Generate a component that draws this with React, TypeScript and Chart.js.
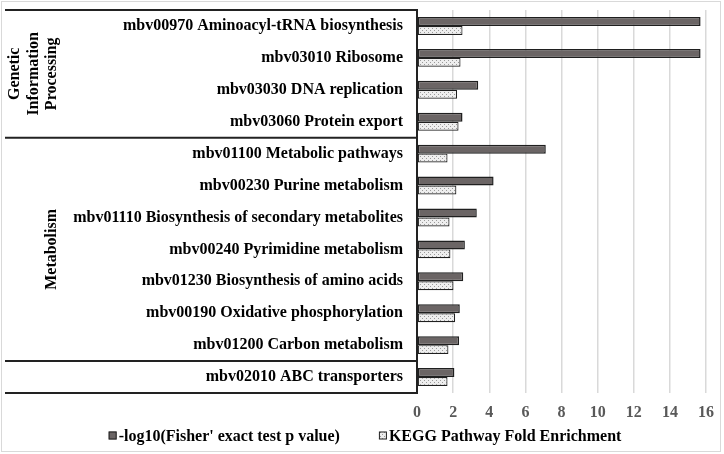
import React, { useEffect, useRef } from "react";
import { Chart, registerables } from "chart.js";

Chart.register(...registerables);

const categories: string[] = [
  "mbv00970 Aminoacyl-tRNA biosynthesis",
  "mbv03010 Ribosome",
  "mbv03030 DNA replication",
  "mbv03060 Protein export",
  "mbv01100 Metabolic pathways",
  "mbv00230 Purine metabolism",
  "mbv01110 Biosynthesis of secondary metabolites",
  "mbv00240 Pyrimidine metabolism",
  "mbv01230 Biosynthesis of amino acids",
  "mbv00190 Oxidative phosphorylation",
  "mbv01200 Carbon metabolism",
  "mbv02010 ABC transporters",
];

const negLogP: number[] = [15.7, 15.7, 3.39, 2.52, 7.13, 4.24, 3.31, 2.65, 2.56, 2.37, 2.33, 2.07];
const foldEnrichment: number[] = [2.52, 2.41, 2.22, 2.3, 1.69, 2.18, 1.8, 1.85, 2.02, 2.11, 1.74, 1.69];

const seriesNames: string[] = ["-log10(Fisher' exact test p value)", "KEGG Pathway Fold Enrichment"];

// groups: label lines, first index, last index
const groupLabels: string[][] = [["Genetic", "Information", "Processing"], ["Metabolism"], []];
const groupStarts: number[] = [0, 4, 11];
const groupEnds: number[] = [3, 10, 11];

const xMin = 0;
const xMax = 16;
const xStep = 2;

const FONT = "'Liberation Serif', 'Times New Roman', serif";

function makeDotPattern(): CanvasPattern | string {
  const c = document.createElement("canvas");
  c.width = 4;
  c.height = 4;
  const g = c.getContext("2d");
  if (!g) return "#dddddd";
  g.fillStyle = "#eeeeee";
  g.fillRect(0, 0, 4, 4);
  g.fillStyle = "#9a9a9a";
  g.fillRect(0, 0, 1, 1);
  g.fillRect(2, 2, 1, 1);
  const p = g.createPattern(c, "repeat");
  return p || "#dddddd";
}

const decorPlugin = {
  id: "decor",
  beforeDraw(chart: any) {
    const ctx = chart.ctx;
    ctx.save();
    ctx.strokeStyle = "#d9d9d9";
    ctx.lineWidth = 1;
    ctx.strokeRect(1.5, 1.5, 719, 450);
    ctx.restore();
  },
  afterDraw(chart: any) {
    const ctx = chart.ctx;
    const area = chart.chartArea;
    const y = chart.scales.y;
    const boundary = (i: number) => {
      if (i <= 0) return area.top;
      if (i >= categories.length) return area.bottom;
      return (y.getPixelForValue(i - 1) + y.getPixelForValue(i)) / 2;
    };
    ctx.save();
    ctx.strokeStyle = "#222222";
    ctx.lineWidth = 2;
    const lines = new Set<number>();
    groupStarts.forEach((s, gi) => {
      lines.add(boundary(s));
      lines.add(boundary(groupEnds[gi] + 1));
    });
    lines.forEach((py) => {
      ctx.beginPath();
      ctx.moveTo(5, py);
      ctx.lineTo(area.left, py);
      ctx.stroke();
    });
    // group labels
    ctx.fillStyle = "#000000";
    ctx.font = `bold 16px ${FONT}`;
    ctx.textAlign = "center";
    ctx.textBaseline = "middle";
    groupLabels.forEach((lbl, gi) => {
      if (!lbl.length) return;
      const cy = (boundary(groupStarts[gi]) + boundary(groupEnds[gi] + 1)) / 2;
      const n = lbl.length;
      lbl.forEach((t, li) => {
        const cx = 52 - (n - 1 - li) * 18.5;
        ctx.save();
        ctx.translate(cx, cy);
        ctx.rotate(-Math.PI / 2);
        ctx.fillText(t, 0, 0);
        ctx.restore();
      });
    });
    // legend
    const ds = chart.data.datasets;
    ctx.font = `bold 16px ${FONT}`;
    ctx.textAlign = "left";
    const box = 8;
    const gapText = 2;
    const gapItem = 39;
    const widths = ds.map((d: any) => ctx.measureText(d.label).width);
    const total = widths.reduce((a: number, w: number) => a + box + gapText + w, 0) + gapItem * (ds.length - 1);
    let x = 365 - total / 2;
    const ly = 435.5;
    ds.forEach((d: any, i: number) => {
      ctx.fillStyle = d.backgroundColor;
      ctx.fillRect(x, ly - box / 2, box, box);
      ctx.strokeStyle = "#222222";
      ctx.lineWidth = 1;
      ctx.strokeRect(x + 0.5, ly - box / 2 + 0.5, box - 1, box - 1);
      ctx.fillStyle = "#000000";
      ctx.fillText(d.label, x + box + gapText, ly + 1);
      x += box + gapText + widths[i] + gapItem;
    });
    ctx.restore();
  },
};

export default function App() {
  const ref = useRef<HTMLCanvasElement | null>(null);
  useEffect(() => {
    if (!ref.current) return;
    const pattern = makeDotPattern();
    const chart = new Chart(ref.current, {
      type: "bar",
      data: {
        labels: categories,
        datasets: [
          {
            label: seriesNames[0],
            data: negLogP,
            backgroundColor: "#6b6565",
            borderColor: "#1f1f1f",
            borderWidth: 1.5,
            borderSkipped: false,
            barPercentage: 1,
            categoryPercentage: 0.56,
          },
          {
            label: seriesNames[1],
            data: foldEnrichment,
            backgroundColor: pattern as any,
            borderColor: "#1f1f1f",
            borderWidth: 1.2,
            borderSkipped: false,
            barPercentage: 1,
            categoryPercentage: 0.56,
          },
        ],
      },
      options: {
        indexAxis: "y",
        responsive: false,
        animation: false,
        layout: { padding: { top: 10, right: 18, bottom: 0, left: 0 } },
        plugins: {
          legend: { display: false },
          tooltip: { enabled: false },
        },
        scales: {
          x: {
            min: xMin,
            max: xMax,
            ticks: {
              stepSize: xStep,
              color: "#595959",
              font: { family: FONT, size: 16, weight: "bold" },
              padding: 10,
            },
            grid: { color: "#d9d9d9", lineWidth: 1.5, drawTicks: false },
            border: { display: false },
            afterFit(scale: any) {
              scale.height = 61;
              scale.paddingLeft = 0;
              scale.paddingRight = 0;
            },
          },
          y: {
            ticks: {
              color: "#000000",
              font: { family: FONT, size: 16, weight: "bold" },
              padding: 14,
              autoSkip: false,
            },
            grid: { display: false, drawTicks: false },
            border: { display: true, color: "#222222", width: 2 },
            afterFit(scale: any) {
              scale.width = 417;
              scale.paddingTop = 0;
              scale.paddingBottom = 0;
            },
          },
        },
      },
      plugins: [decorPlugin],
    });
    return () => chart.destroy();
  }, []);
  return (
    <div style={{ position: "absolute", left: 0, top: 0, width: 724, height: 454, background: "#ffffff" }}>
      <canvas ref={ref} width={724} height={454} style={{ display: "block" }} />
    </div>
  );
}
